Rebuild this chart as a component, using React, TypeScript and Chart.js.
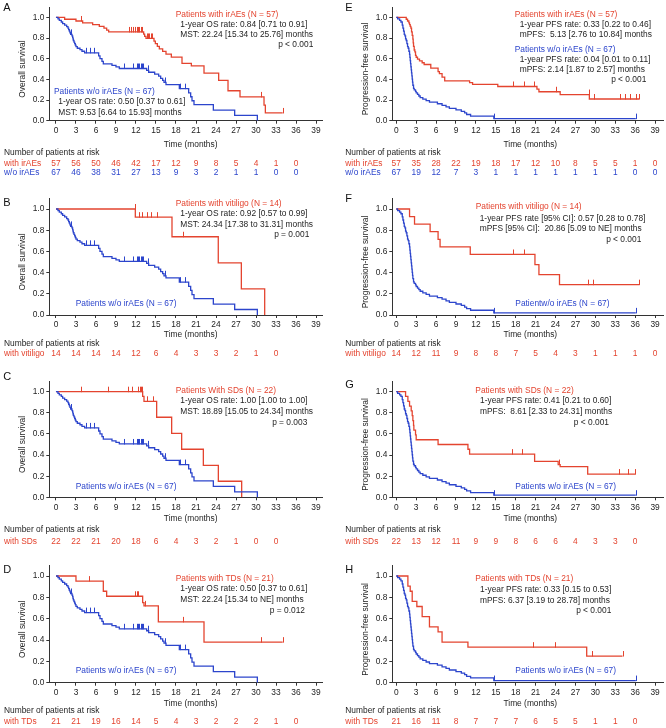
import React, { useEffect, useRef } from 'react';
import { Chart, registerables } from 'chart.js';
Chart.register(...registerables);

const RED = '#e4442f';
const BLUE = '#2c45cc';
const INK = '#1e1e1e';
const FONT = '"Liberation Sans", Arial, Helvetica, sans-serif';
const FS = 8.4;

const X_TICKS = [0, 3, 6, 9, 12, 15, 18, 21, 24, 27, 30, 33, 36, 39];
const Y_TICKS = [0, 0.2, 0.4, 0.6, 0.8, 1.0];
const RISK_TIMES = [0, 3, 6, 9, 12, 15, 18, 21, 24, 27, 30, 33, 36, 39];

// ---- Overall survival, patients w/o irAEs (N = 67) ----
const osNoT = [0, 0.3, 0.5, 0.8, 1.0, 1.3, 1.6, 1.8, 1.9, 2.0, 2.1, 2.2, 2.4, 2.5, 2.55, 2.6, 2.7, 2.8, 2.9, 3.0, 3.2, 3.6, 3.9, 4.3, 6.4, 6.6, 6.9, 7.1, 8.4, 9.0, 9.5, 13.6, 13.9, 14.8, 15.4, 15.7, 16.0, 16.2, 16.5, 18.5, 19.9, 20.2, 20.4, 20.7, 23.6, 26.8, 30.2];
const osNoS = [1, 0.985, 0.970, 0.955, 0.940, 0.925, 0.910, 0.896, 0.881, 0.866, 0.851, 0.836, 0.821, 0.806, 0.791, 0.776, 0.761, 0.746, 0.731, 0.716, 0.701, 0.687, 0.672, 0.657, 0.628, 0.600, 0.575, 0.550, 0.535, 0.520, 0.505, 0.487, 0.469, 0.451, 0.432, 0.410, 0.390, 0.370, 0.350, 0.310, 0.270, 0.232, 0.193, 0.155, 0.103, 0.052, 0];
const osNoC = [2.3, 4.5, 5.1, 5.7, 10.2, 11.5, 12.1, 12.3, 12.5, 12.7, 12.9, 13.1, 13.85, 16.3, 18.6, 19.4];

// ---- Progression-free survival, patients w/o irAEs (N = 67) ----
const pfsNoT = [0, 0.2, 0.5, 0.7, 0.9, 1.0, 1.1, 1.2, 1.3, 1.4, 1.5, 1.6, 1.7, 1.8, 1.9, 2.0, 2.05, 2.1, 2.15, 2.2, 2.25, 2.3, 2.35, 2.4, 2.45, 2.5, 2.6, 2.7, 2.9, 3.0, 3.2, 3.4, 3.6, 4.0, 4.5, 5.0, 6.2, 6.9, 7.5, 8.0, 9.0, 9.8, 10.3, 10.6, 11.2, 14.7, 36.1];
const pfsNoS = [1, 0.985, 0.970, 0.955, 0.925, 0.896, 0.866, 0.836, 0.821, 0.791, 0.776, 0.746, 0.716, 0.701, 0.672, 0.642, 0.612, 0.582, 0.552, 0.522, 0.492, 0.463, 0.433, 0.403, 0.373, 0.343, 0.313, 0.299, 0.284, 0.269, 0.254, 0.239, 0.224, 0.209, 0.194, 0.179, 0.164, 0.149, 0.134, 0.119, 0.104, 0.090, 0.075, 0.060, 0.045, 0.020, 0.020];
const pfsNoC = [14.7, 36.1];

// ---- A: OS, patients with irAEs (N = 57) ----
const osAeT = [0, 1.3, 3.0, 4.0, 5.5, 6.5, 7.2, 7.6, 7.9, 13.15, 13.3, 13.5, 14.7, 14.9, 15.2, 15.5, 16.0, 16.5, 17.3, 18.9, 20.3, 22.2, 24.4, 25.8, 27.6, 31.2, 31.4, 34.0];
const osAeS = [1, 0.982, 0.965, 0.947, 0.930, 0.912, 0.895, 0.877, 0.859, 0.838, 0.817, 0.796, 0.770, 0.745, 0.720, 0.695, 0.670, 0.645, 0.615, 0.555, 0.530, 0.460, 0.390, 0.290, 0.230, 0.150, 0.075, 0.075];
const osAeC = [3.7, 10.9, 11.2, 11.5, 11.9, 12.1, 12.3, 12.5, 12.7, 12.9, 13.6, 13.8, 14.0, 14.2, 14.4, 30.7, 34.0];

// ---- E: PFS, patients with irAEs (N = 57) ----
const pfsAeT = [0, 1.5, 1.7, 1.9, 2.0, 2.1, 2.2, 2.3, 2.4, 2.5, 2.55, 2.6, 2.7, 2.8, 2.9, 3.0, 3.2, 3.5, 3.9, 4.2, 5.2, 6.3, 6.5, 6.9, 7.3, 11.05, 11.5, 15.3, 21.2, 21.5, 24.7, 29.1, 36.6];
const pfsAeS = [1, 0.982, 0.965, 0.947, 0.930, 0.912, 0.895, 0.860, 0.825, 0.790, 0.754, 0.719, 0.684, 0.667, 0.632, 0.614, 0.596, 0.579, 0.561, 0.544, 0.509, 0.474, 0.456, 0.421, 0.386, 0.368, 0.351, 0.331, 0.305, 0.280, 0.253, 0.210, 0.210];
const pfsAeC = [17.6, 19.3, 20.8, 24.0, 29.0, 29.8, 33.7, 34.4, 35.3, 36.2, 36.6];

// ---- B: OS, vitiligo (N = 14) ----
const osVitT = [0, 11.9, 17.4, 24.34, 27.8, 31.3];
const osVitS = [1, 0.923, 0.738, 0.492, 0.246, 0];
const osVitC = [11.85, 12.4, 12.9, 13.6, 14.3, 15.1, 19.0];

// ---- F: PFS, vitiligo (N = 14) ----
const pfsVitT = [0, 2.0, 2.75, 5.1, 6.3, 6.6, 11.15, 20.9, 21.5, 24.6, 36.6];
const pfsVitS = [1, 0.929, 0.857, 0.786, 0.714, 0.643, 0.571, 0.476, 0.381, 0.286, 0.286];
const pfsVitC = [17.6, 19.3, 28.9, 29.7, 36.6];

// ---- C: OS, SDs (N = 22) ----
const osSdT = [0, 13.0, 13.2, 15.1, 17.35, 18.85, 22.1, 24.35, 27.85];
const osSdS = [1, 0.955, 0.909, 0.758, 0.606, 0.455, 0.303, 0.152, 0];
const osSdC = [3.75, 7.75, 10.75, 11.45, 12.35, 12.55, 12.75, 12.95, 13.6, 14.5];

// ---- G: PFS, SDs (N = 22) ----
const pfsSdT = [0, 1.4, 1.75, 2.0, 2.25, 2.4, 2.5, 2.6, 2.65, 2.9, 3.0, 6.3, 10.8, 11.05, 20.85, 24.4, 24.7, 28.85, 36.05];
const pfsSdS = [1, 0.955, 0.909, 0.864, 0.818, 0.773, 0.727, 0.682, 0.636, 0.591, 0.545, 0.500, 0.455, 0.409, 0.341, 0.310, 0.290, 0.220, 0.220];
const pfsSdC = [17.4, 19.0, 24.5, 33.5, 35.0, 36.05];

// ---- D: OS, TDs (N = 21) ----
const osTdT = [0, 3.0, 7.1, 7.6, 13.0, 13.2, 15.35, 22.2, 34.0];
const osTdS = [1, 0.952, 0.857, 0.810, 0.750, 0.720, 0.570, 0.380, 0.380];
const osTdC = [5.0, 11.85, 12.1, 12.35, 13.35, 19.0, 30.7, 34.0];

// ---- H: PFS, TDs (N = 21) ----
const pfsTdT = [0, 1.75, 2.1, 2.4, 3.1, 3.9, 5.0, 6.3, 6.9, 10.8, 28.7, 34.1];
const pfsTdS = [1, 0.905, 0.857, 0.762, 0.714, 0.619, 0.524, 0.476, 0.381, 0.333, 0.250, 0.250];
const pfsTdC = [20.6, 23.85, 29.5, 34.1];

// ---- Numbers at risk ----
const riskA_ae = [57, 56, 50, 46, 42, 17, 12, 9, 8, 5, 4, 1, 0];
const riskA_no = [67, 46, 38, 31, 27, 13, 9, 3, 2, 1, 1, 0, 0];
const riskE_ae = [57, 35, 28, 22, 19, 18, 17, 12, 10, 8, 5, 5, 1, 0];
const riskE_no = [67, 19, 12, 7, 3, 1, 1, 1, 1, 1, 1, 1, 0, 0];
const riskB = [14, 14, 14, 14, 12, 6, 4, 3, 3, 2, 1, 0];
const riskF = [14, 12, 11, 9, 8, 8, 7, 5, 4, 3, 1, 1, 1, 0];
const riskC = [22, 22, 21, 20, 18, 6, 4, 3, 2, 1, 0, 0];
const riskG = [22, 13, 12, 11, 9, 9, 8, 6, 6, 4, 3, 3, 0];
const riskD = [21, 21, 19, 16, 14, 5, 4, 3, 2, 2, 2, 1, 0];
const riskH = [21, 16, 11, 8, 7, 7, 7, 6, 5, 5, 1, 1, 0];

type Curve = { t: number[]; s: number[]; c: number[]; color: string };
type Note = { text: string; color: string; x: number; y: number; align?: CanvasTextAlign };
type RiskRow = { label: string; color: string; vals: number[] };
type Spec = {
  letter: string; lx: number; ly: number; col: number; row: number; yTitle: string;
  curves: Curve[]; notes: Note[]; risk: RiskRow[];
};

const COLS = [
  { x: 0, left: 49.3, right: 322.7, xmin: -1, xmax: 40 },
  { x: 333, left: 392.3, right: 663, xmin: -0.6, xmax: 40.2 },
];
const ROWS = [
  { top: 0, h: 190, one: 14.3, zero: 120.7, titleDY: 24.3, numDY: 32, rowDY: 42.5 },
  { top: 190, h: 175, one: 209, zero: 315, titleDY: 20, numDY: 28.3, rowDY: 38.8 },
  { top: 365, h: 183, one: 391.7, zero: 497.3, titleDY: 21, numDY: 32.7, rowDY: 44 },
  { top: 548, h: 180, one: 576, zero: 682.7, titleDY: 20.6, numDY: 28.3, rowDY: 39 },
];

const osNo: Curve = { t: osNoT, s: osNoS, c: osNoC, color: BLUE };
const pfsNo: Curve = { t: pfsNoT, s: pfsNoS, c: pfsNoC, color: BLUE };
const n = (text: string, color: string, x: number, y: number, align: CanvasTextAlign = 'left'): Note => ({ text, color, x, y, align });

const SPECS: Spec[] = [
  {
    letter: 'A', lx: 3.3, ly: 8, col: 0, row: 0, yTitle: 'Overall survival',
    curves: [osNo, { t: osAeT, s: osAeS, c: osAeC, color: RED }],
    notes: [
      n('Patients with irAEs (N = 57)', RED, 175.7, 14.3),
      n('1-year OS rate: 0.84 [0.71 to 0.91]', INK, 180.3, 24.3),
      n('MST: 22.24 [15.34 to 25.76] months', INK, 180.3, 34.3),
      n('p < 0.001', INK, 313.3, 44.3, 'right'),
      n('Patients w/o irAEs (N = 67)', BLUE, 54, 91.7),
      n('1-year OS rate: 0.50 [0.37 to 0.61]', INK, 58.3, 101.7),
      n('MST: 9.53 [6.64 to 15.93] months', INK, 58.3, 112.7),
    ],
    risk: [{ label: 'with irAEs', color: RED, vals: riskA_ae }, { label: 'w/o irAEs', color: BLUE, vals: riskA_no }],
  },
  {
    letter: 'E', lx: 345.3, ly: 8.3, col: 1, row: 0, yTitle: 'Progression-free survival',
    curves: [pfsNo, { t: pfsAeT, s: pfsAeS, c: pfsAeC, color: RED }],
    notes: [
      n('Patients with irAEs (N = 57)', RED, 514.7, 14.3),
      n('1-year PFS rate: 0.33 [0.22 to 0.46]', INK, 519.7, 24.3),
      n('mPFS:  5.13 [2.76 to 10.84] months', INK, 519.7, 34.3),
      n('Patients w/o irAEs (N = 67)', BLUE, 514.7, 49.3),
      n('1-year PFS rate: 0.04 [0.01 to 0.11]', INK, 519.7, 60),
      n('mPFS: 2.14 [1.87 to 2.57] months', INK, 519.7, 70),
      n('p < 0.001', INK, 646.3, 80, 'right'),
    ],
    risk: [{ label: 'with irAEs', color: RED, vals: riskE_ae }, { label: 'w/o irAEs', color: BLUE, vals: riskE_no }],
  },
  {
    letter: 'B', lx: 3.3, ly: 203.3, col: 0, row: 1, yTitle: 'Overall survival',
    curves: [osNo, { t: osVitT, s: osVitS, c: osVitC, color: RED }],
    notes: [
      n('Patients with vitiligo (N = 14)', RED, 175.7, 204),
      n('1-year OS rate: 0.92 [0.57 to 0.99]', INK, 180.3, 214),
      n('MST: 24.34 [17.38 to 31.31] months', INK, 180.3, 224.3),
      n('p = 0.001', INK, 309.3, 235, 'right'),
      n('Patients w/o irAEs (N = 67)', BLUE, 75.7, 303.3),
    ],
    risk: [{ label: 'with vitiligo', color: RED, vals: riskB }],
  },
  {
    letter: 'F', lx: 345.3, ly: 199, col: 1, row: 1, yTitle: 'Progression-free survival',
    curves: [pfsNo, { t: pfsVitT, s: pfsVitS, c: pfsVitC, color: RED }],
    notes: [
      n('Patients with vitiligo (N = 14)', RED, 475.7, 206.7),
      n('1-year PFS rate [95% CI]: 0.57 [0.28 to 0.78]', INK, 479.7, 218.3),
      n('mPFS [95% CI]:  20.86 [5.09 to NE] months', INK, 479.7, 229),
      n('p < 0.001', INK, 641.3, 240, 'right'),
      n('Patientw/o irAEs (N = 67)', BLUE, 515.3, 303.3),
    ],
    risk: [{ label: 'with vitiligo', color: RED, vals: riskF }],
  },
  {
    letter: 'C', lx: 3.3, ly: 377, col: 0, row: 2, yTitle: 'Overall survival',
    curves: [osNo, { t: osSdT, s: osSdS, c: osSdC, color: RED }],
    notes: [
      n('Patients With SDs (N = 22)', RED, 175.7, 390.7),
      n('1-year OS rate: 1.00 [1.00 to 1.00]', INK, 180.3, 401),
      n('MST: 18.89 [15.05 to 24.34] months', INK, 180.3, 411.7),
      n('p = 0.003', INK, 307.3, 422.3, 'right'),
      n('Patients w/o irAEs (N = 67)', BLUE, 75.7, 486.7),
    ],
    risk: [{ label: 'with SDs', color: RED, vals: riskC }],
  },
  {
    letter: 'G', lx: 345.3, ly: 385, col: 1, row: 2, yTitle: 'Progression-free survival',
    curves: [pfsNo, { t: pfsSdT, s: pfsSdS, c: pfsSdC, color: RED }],
    notes: [
      n('Patients with SDs (N = 22)', RED, 475.3, 390.7),
      n('1-year PFS rate: 0.41 [0.21 to 0.60]', INK, 480, 401),
      n('mPFS:  8.61 [2.33 to 24.31] months', INK, 480, 411.7),
      n('p < 0.001', INK, 609, 422.3, 'right'),
      n('Patients w/o irAEs (N = 67)', BLUE, 515.3, 486.7),
    ],
    risk: [{ label: 'with SDs', color: RED, vals: riskG }],
  },
  {
    letter: 'D', lx: 3.3, ly: 569.5, col: 0, row: 3, yTitle: 'Overall survival',
    curves: [osNo, { t: osTdT, s: osTdS, c: osTdC, color: RED }],
    notes: [
      n('Patients with TDs (N = 21)', RED, 175.7, 579),
      n('1-year OS rate: 0.50 [0.37 to 0.61]', INK, 180.3, 589),
      n('MST: 22.24 [15.34 to NE] months', INK, 180.3, 599.3),
      n('p = 0.012', INK, 305, 610.7, 'right'),
      n('Patients w/o irAEs (N = 67)', BLUE, 75.7, 671),
    ],
    risk: [{ label: 'with TDs', color: RED, vals: riskD }],
  },
  {
    letter: 'H', lx: 345.3, ly: 569.5, col: 1, row: 3, yTitle: 'Progression-free survival',
    curves: [pfsNo, { t: pfsTdT, s: pfsTdS, c: pfsTdC, color: RED }],
    notes: [
      n('Patients with TDs (N = 21)', RED, 475.3, 579),
      n('1-year PFS rate: 0.33 [0.15 to 0.53]', INK, 480, 590),
      n('mPFS: 6.37 [3.19 to 28.78] months', INK, 480, 600.7),
      n('p < 0.001', INK, 611.3, 610.7, 'right'),
      n('Patients w/o irAEs (N = 67)', BLUE, 515.3, 671),
    ],
    risk: [{ label: 'with TDs', color: RED, vals: riskH }],
  },
];

function stepValue(t: number[], s: number[], x: number): number {
  let v = s[0];
  for (let i = 0; i < t.length; i++) {
    if (t[i] <= x) v = s[i];
    else break;
  }
  return v;
}

function buildConfig(spec: Spec): any {
  const col = COLS[spec.col];
  const row = ROWS[spec.row];
  const unit = row.zero - row.one;
  const topY = row.one - 0.1 * unit;
  const areaTop = topY - row.top;
  const areaBottom = row.zero - row.top;
  const areaLeft = col.left - col.x;
  const areaRight = col.right - col.x;
  const font = (size: number) => `${size}px ${FONT}`;

  const datasets: any[] = [];
  spec.curves.forEach((cv, k) => {
    datasets.push({
      label: 'curve' + k,
      data: cv.t.map((x, i) => ({ x, y: cv.s[i] })),
      stepped: 'before',
      borderColor: cv.color,
      borderWidth: 1.3,
      pointRadius: 0,
      fill: false,
    });
    datasets.push({
      label: 'censor' + k,
      data: cv.c.map((x) => ({ x, y: stepValue(cv.t, cv.s, x) })),
      showLine: false,
      borderColor: cv.color,
      backgroundColor: cv.color,
      pointRadius: 0,
    });
  });

  const extras = {
    id: 'kmExtras',
    afterDatasetsDraw(chart: any) {
      const ctx = chart.ctx;
      chart.data.datasets.forEach((ds: any, i: number) => {
        if (!String(ds.label).startsWith('censor')) return;
        const meta = chart.getDatasetMeta(i);
        ctx.save();
        ctx.strokeStyle = ds.borderColor;
        ctx.lineWidth = 1;
        ctx.beginPath();
        meta.data.forEach((pt: any) => {
          const x = Math.round(pt.x) + 0.5;
          ctx.moveTo(x, pt.y + 0.5);
          ctx.lineTo(x, pt.y - 5);
        });
        ctx.stroke();
        ctx.restore();
      });
    },
    afterDraw(chart: any) {
      const ctx = chart.ctx;
      const xs = chart.scales.x;
      const ys = chart.scales.y;
      const ca = chart.chartArea;
      ctx.save();
      ctx.textBaseline = 'middle';
      // panel letter
      ctx.fillStyle = '#111';
      ctx.font = font(11);
      ctx.textAlign = 'left';
      ctx.fillText(spec.letter, spec.lx - col.x, spec.ly - row.top);
      // y title
      ctx.save();
      ctx.translate(ca.left - 26.5, ys.getPixelForValue(0.5));
      ctx.rotate(-Math.PI / 2);
      ctx.textAlign = 'center';
      ctx.font = font(FS);
      ctx.fillStyle = INK;
      ctx.fillText(spec.yTitle, 0, 0);
      ctx.restore();
      // x title
      ctx.font = font(FS);
      ctx.fillStyle = INK;
      ctx.textAlign = 'center';
      ctx.fillText('Time (months)', xs.getPixelForValue(20.2), ca.bottom + row.titleDY);
      // annotations
      spec.notes.forEach((nt) => {
        ctx.fillStyle = nt.color;
        ctx.textAlign = nt.align || 'left';
        ctx.fillText(nt.text, nt.x - col.x, nt.y - row.top);
      });
      // risk table
      const labelX = spec.col === 0 ? 4 : 12.3;
      ctx.textAlign = 'left';
      ctx.fillStyle = INK;
      ctx.fillText('Number of patients at risk', labelX, ca.bottom + row.numDY);
      spec.risk.forEach((r, ri) => {
        const y = ca.bottom + row.rowDY + ri * 9.7;
        ctx.fillStyle = r.color;
        ctx.textAlign = 'left';
        ctx.fillText(r.label, labelX, y);
        ctx.textAlign = 'center';
        r.vals.forEach((v, i) => {
          ctx.fillText(String(v), xs.getPixelForValue(RISK_TIMES[i]), y);
        });
      });
      ctx.restore();
    },
  };

  return {
    type: 'line',
    data: { datasets },
    plugins: [extras],
    options: {
      responsive: false,
      maintainAspectRatio: false,
      animation: false,
      devicePixelRatio: 1,
      events: [],
      layout: { padding: { left: 0, top: areaTop, right: 333 - areaRight, bottom: 0 } },
      plugins: { legend: { display: false }, tooltip: { enabled: false }, title: { display: false } },
      scales: {
        x: {
          type: 'linear',
          min: col.xmin,
          max: col.xmax,
          afterBuildTicks: (s: any) => { s.ticks = X_TICKS.map((v) => ({ value: v })); },
          afterFit: (s: any) => { s.height = row.h - areaBottom; },
          ticks: { font: { family: FONT, size: FS }, color: INK, padding: 2, autoSkip: false, maxRotation: 0, callback: (v: any) => String(v) },
          grid: { display: true, drawOnChartArea: false, drawTicks: true, tickLength: 3, color: '#333', lineWidth: 1 },
          border: { display: true, color: '#333', width: 1 },
        },
        y: {
          type: 'linear',
          min: 0,
          max: 1.1,
          afterBuildTicks: (s: any) => { s.ticks = Y_TICKS.map((v) => ({ value: v })); },
          afterFit: (s: any) => { s.width = areaLeft; },
          ticks: { font: { family: FONT, size: FS }, color: INK, padding: 2, callback: (v: any) => Number(v).toFixed(1) },
          grid: { display: true, drawOnChartArea: false, drawTicks: true, tickLength: 3, color: '#333', lineWidth: 1 },
          border: { display: true, color: '#333', width: 1 },
        },
      },
    },
  };
}

function Panel({ spec }: { spec: Spec }) {
  const ref = useRef<HTMLCanvasElement>(null);
  const col = COLS[spec.col];
  const row = ROWS[spec.row];
  useEffect(() => {
    const chart = new Chart(ref.current as HTMLCanvasElement, buildConfig(spec));
    return () => chart.destroy();
  }, [spec]);
  return (
    <canvas
      ref={ref}
      width={333}
      height={row.h}
      style={{ position: 'absolute', left: col.x, top: row.top, width: 333, height: row.h }}
    />
  );
}

export default function App() {
  return (
    <div style={{ position: 'fixed', left: 0, top: 0, width: 666, height: 728, background: '#ffffff', overflow: 'hidden' }}>
      {SPECS.map((s) => (
        <Panel key={s.letter} spec={s} />
      ))}
    </div>
  );
}
